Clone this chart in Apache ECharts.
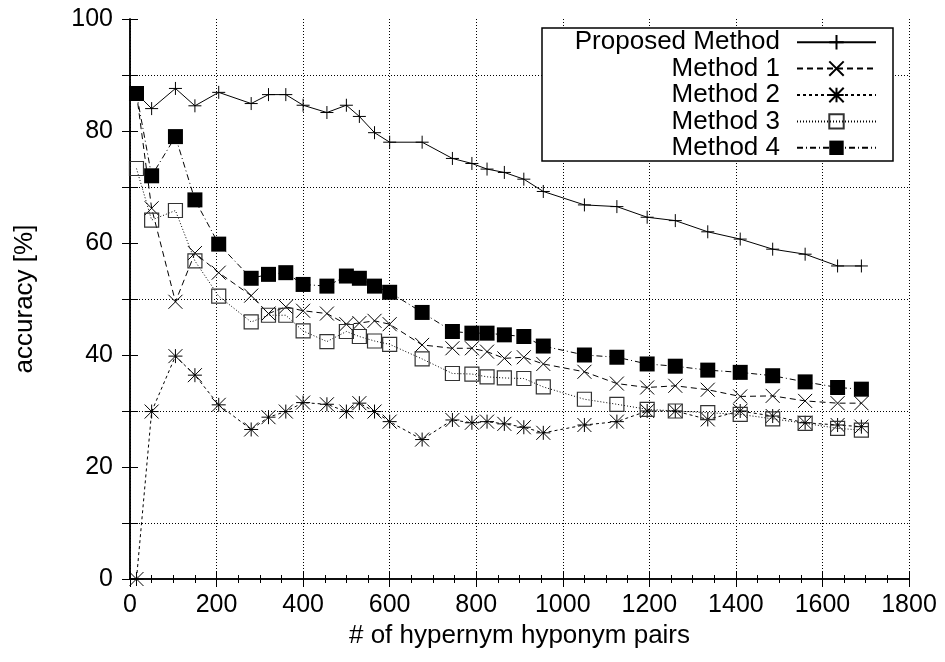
<!DOCTYPE html>
<html>
<head>
<meta charset="utf-8">
<script src="https://cdn.jsdelivr.net/npm/echarts@6/dist/echarts.min.js"></script>
<style>
html, body { margin: 0; padding: 0; background: #fff; }
#chart { width: 945px; height: 662px; }
</style>
</head>
<body>
<div id="chart"></div>
<script>
// x: number of hypernym/hyponym pairs
var pairs = [15, 50, 105, 150, 205, 280, 320, 360, 400, 455, 500, 530, 565, 600, 675, 745, 790, 825, 865, 910, 955, 1050, 1125, 1195, 1260, 1335, 1410, 1485, 1560, 1635, 1690];

// accuracy [%] per method
var proposed = [86.7, 84.0, 87.6, 84.5, 86.9, 84.9, 86.5, 86.5, 84.6, 83.3, 84.6, 82.6, 79.7, 78.0, 78.0, 75.1, 74.2, 73.2, 72.6, 71.4, 69.2, 66.8, 66.5, 64.6, 64.0, 62.0, 60.7, 58.9, 58.0, 55.9, 55.9];
var method1 = [86.7, 66.2, 49.5, 58.2, 54.7, 50.6, 47.4, 48.6, 47.9, 47.4, 45.5, 45.7, 46.1, 45.5, 41.8, 41.2, 41.2, 40.6, 39.4, 39.6, 38.4, 37.0, 34.9, 34.2, 34.5, 33.8, 32.6, 32.7, 31.8, 31.4, 31.4];
var method2 = [0, 29.9, 39.8, 36.4, 31.1, 26.7, 28.9, 29.9, 31.5, 31.2, 29.9, 31.4, 29.9, 28.1, 24.9, 28.4, 27.9, 28.1, 27.7, 27.1, 26.1, 27.5, 28.1, 30.0, 30.0, 28.5, 30.0, 29.1, 27.9, 27.5, 27.2];
var method3 = [73.3, 64.1, 65.8, 56.8, 50.5, 45.9, 47.1, 47.1, 44.3, 42.4, 44.2, 43.3, 42.5, 41.9, 39.3, 36.7, 36.6, 36.1, 35.9, 35.8, 34.3, 32.1, 31.2, 30.3, 30.0, 29.7, 29.4, 28.6, 27.8, 26.9, 26.6];
var method4 = [86.7, 72.0, 79.0, 67.7, 59.8, 53.7, 54.4, 54.7, 52.6, 52.3, 54.1, 53.7, 52.3, 51.2, 47.6, 44.2, 43.9, 43.9, 43.6, 43.3, 41.6, 40.0, 39.6, 38.4, 38.0, 37.3, 36.9, 36.3, 35.2, 34.2, 33.9];

var seriesNames = ['Proposed Method', 'Method 1', 'Method 2', 'Method 3', 'Method 4'];

var FONT = "'Liberation Sans', Arial, sans-serif";

function pts(vals) {
  return pairs.map(function (x, i) { return [x, vals[i]]; });
}

// gnuplot-like point types
var SYM_PLUS = 'path://M0,5L10,5M5,0L5,10';
var SYM_CROSS = 'path://M0,0L10,10M10,0L0,10';
var SYM_STAR = 'path://M0,0L10,10M10,0L0,10M5,0L5,10M0,5L10,5';
var SYM_BOX = 'path://M0,0L10,0L10,10L0,10Z';

function lineSeries(name, vals, symbol, size, dash, itemStyle) {
  return {
    name: name,
    type: 'line',
    data: pts(vals),
    symbol: symbol,
    symbolSize: size,
    showAllSymbol: true,
    lineStyle: { color: '#000', width: 1, type: dash },
    itemStyle: itemStyle,
    emphasis: { disabled: true },
    z: 3
  };
}

var strokeOnly = { color: 'transparent', borderColor: '#000', borderWidth: 1 };

var chartDom = document.getElementById('chart');
var myChart = echarts.init(chartDom);

var tickCommon = {
  axisLine: { show: true, lineStyle: { color: '#000', width: 1.5 } },
  axisTick: { show: true, inside: true, length: 8, lineStyle: { color: '#000', width: 1 } }
};

var option = {
  animation: false,
  backgroundColor: '#fff',
  grid: { left: 130, right: 36, top: 19, bottom: 83, outerBoundsMode: 'none', containLabel: false },
  legend: {
    data: seriesNames,
    orient: 'vertical',
    align: 'right',
    right: 52,
    top: 28,
    itemWidth: 79,
    itemHeight: 18,
    itemGap: 0,
    padding: [1, 16, 0, 23],
    borderColor: '#000',
    borderWidth: 1.5,
    backgroundColor: '#fff',
    selectedMode: false,
    textStyle: {
      color: '#000',
      fontFamily: FONT,
      fontSize: 26,
      lineHeight: 26.4,
      width: 215,
      padding: [0, 12, 0, 0]
    }
  },
  xAxis: [
    {
      type: 'value',
      position: 'bottom',
      min: 0,
      max: 1800,
      interval: 200,
      name: '# of hypernym hyponym pairs',
      nameLocation: 'middle',
      nameGap: 40,
      nameTextStyle: { color: '#000', fontFamily: FONT, fontSize: 26 },
      axisLine: tickCommon.axisLine,
      axisTick: tickCommon.axisTick,
      minorTick: { show: true, splitNumber: 4, length: 4, lineStyle: { color: '#000', width: 1 } },
      axisLabel: {
        color: '#000', fontFamily: FONT, fontSize: 25, margin: 14,
        showMinLabel: true, showMaxLabel: true,
        formatter: function (v) { return String(v); }
      },
      splitLine: { show: true, lineStyle: { color: '#000', width: 1, type: [1, 2] } },
      minorSplitLine: { show: false }
    },
    {
      type: 'value',
      position: 'top',
      min: 0,
      max: 1800,
      interval: 200,
      axisLine: tickCommon.axisLine,
      axisTick: tickCommon.axisTick,
      minorTick: { show: true, splitNumber: 4, length: 4, lineStyle: { color: '#000', width: 1 } },
      axisLabel: { show: false },
      splitLine: { show: false }
    }
  ],
  yAxis: [
    {
      type: 'value',
      position: 'left',
      min: 0,
      max: 100,
      interval: 20,
      name: 'accuracy [%]',
      nameLocation: 'middle',
      nameRotate: 90,
      nameGap: 92,
      nameTextStyle: { color: '#000', fontFamily: FONT, fontSize: 26 },
      axisLine: tickCommon.axisLine,
      axisTick: tickCommon.axisTick,
      minorTick: { show: true, splitNumber: 2, length: 8, lineStyle: { color: '#000', width: 1 } },
      axisLabel: { color: '#000', fontFamily: FONT, fontSize: 25, margin: 17, showMinLabel: true, showMaxLabel: true },
      splitLine: { show: false },
      minorSplitLine: { show: true, lineStyle: { color: '#000', width: 1, type: [1, 2] } }
    },
    {
      type: 'value',
      position: 'right',
      min: 0,
      max: 100,
      interval: 20,
      axisLine: tickCommon.axisLine,
      axisTick: tickCommon.axisTick,
      minorTick: { show: true, splitNumber: 2, length: 8, lineStyle: { color: '#000', width: 1 } },
      axisLabel: { show: false },
      splitLine: { show: false }
    }
  ],
  series: [
    lineSeries(seriesNames[0], proposed, SYM_PLUS, 13, 'solid', strokeOnly),
    lineSeries(seriesNames[1], method1, SYM_CROSS, 14, [6, 4], strokeOnly),
    lineSeries(seriesNames[2], method2, SYM_STAR, 14, [3, 3], strokeOnly),
    lineSeries(seriesNames[3], method3, SYM_BOX, 14, [1, 2], { color: 'transparent', borderColor: '#333', borderWidth: 1.2 }),
    lineSeries(seriesNames[4], method4, SYM_BOX, 15, [6, 3, 1, 3], { color: '#000', borderColor: '#000', borderWidth: 0 })
  ]
};

myChart.setOption(option);
</script>
</body>
</html>
